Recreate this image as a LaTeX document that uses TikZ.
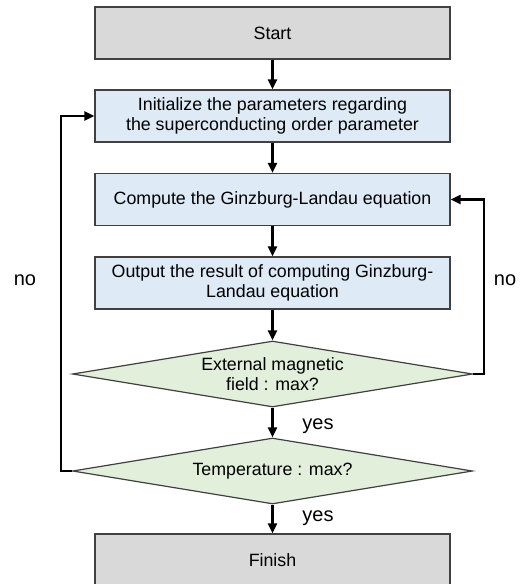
\documentclass[tikz,border=0pt]{standalone}
\usepackage{fontspec}
\setmainfont{Liberation Sans}
\usetikzlibrary{shapes.geometric,arrows.meta}
\definecolor{termfill}{HTML}{D9D9D9}
\definecolor{procfill}{HTML}{DEEAF6}
\definecolor{decfill}{HTML}{E2EFDA}
\definecolor{edge}{HTML}{404040}
\begin{document}
\begin{tikzpicture}[
    x=1pt, y=1pt,
    box/.style={draw=edge, line width=1.2pt, minimum width=355pt, minimum height=52pt, align=center, font=\fontsize{17.8}{19.5}\selectfont},
    term/.style={box, fill=termfill},
    proc/.style={box, fill=procfill},
    dec/.style={draw=edge, line width=1.2pt, fill=decfill, diamond, aspect=6.06, inner sep=0pt, minimum width=400pt, minimum height=66pt, align=center, font=\fontsize{17.8}{19.5}\selectfont},
    arr/.style={-{Triangle[length=10pt,width=9pt]}, line width=2.6pt},
    lbl/.style={font=\fontsize{20}{22}\selectfont},
]
\useasboundingbox (0,0) rectangle (520,-584);
% Main chain
\node[term] (start) at (272.5, -33) {Start};
\node[proc] (init) at (272.5, -116) {Initialize the parameters regarding\\the superconducting order parameter};
\node[proc] (comp) at (272.5, -199.5) {Compute the Ginzburg-Landau equation};
\node[proc] (out) at (272.5, -283) {Output the result of computing Ginzburg-\\Landau equation};
\node[dec] (field) at (272.5, -374) {External magnetic\\field : max?};
\node[dec] (temp) at (272.5, -471) {Temperature : max?};
\node[term] (finish) at (272.5, -560) {Finish};
% Labels
\node[lbl] (noleft) at (25, -280) {no};
\node[lbl] (noright) at (505, -280) {no};
\node[lbl] (yesfield) at (318, -426) {yes};
\node[lbl] (yestemp) at (318, -518) {yes};
% Straight arrows
\draw[arr] (start) -- (init);
\draw[arr] (init) -- (comp);
\draw[arr] (comp) -- (out);
\draw[arr] (out) -- (field);
\draw[arr] (field) -- (temp);
\draw[arr] (temp) -- (finish);
% Loops back
\draw[arr] (field.east) -- ++(11,0) |- (comp.east);
\draw[arr] (temp.west) -- ++(-11,0) |- (init.west);
\end{tikzpicture}
\end{document}
